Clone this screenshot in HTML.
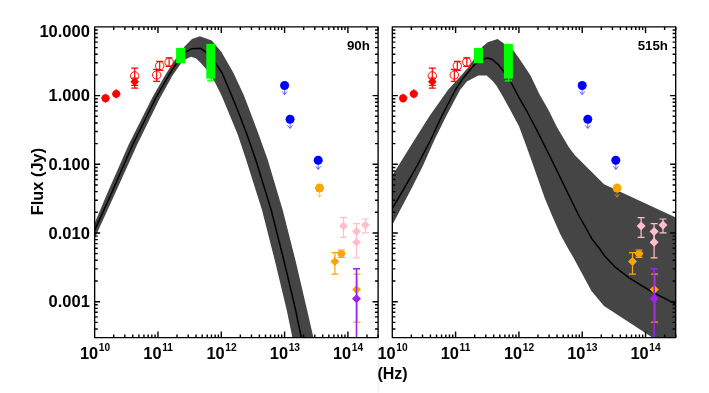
<!DOCTYPE html><html><head><meta charset="utf-8"><style>html,body{margin:0;padding:0;background:#fff}svg{display:block}text{font-family:"Liberation Sans",sans-serif;font-weight:bold;fill:#000}</style></head><body>
<svg width="709" height="393" viewBox="0 0 709 393">
<rect width="709" height="393" fill="#fff"/>
<defs><clipPath id="c1"><rect x="94.65" y="26.9" width="283.45000000000005" height="310.70000000000005"/></clipPath><clipPath id="c2"><rect x="392.3" y="26.9" width="283.40000000000003" height="310.70000000000005"/></clipPath></defs>
<rect x="377.7" y="338.2" width="1" height="54.5" fill="#ececec"/>
<polygon clip-path="url(#c1)" fill="#454545" points="94.3,224.0 106.5,195.0 128.5,145.0 152.6,97.0 165.0,75.5 173.0,62.7 185.0,46.0 192.0,39.0 199.9,36.2 211.7,40.5 221.3,51.7 227.2,62.0 233.5,73.0 238.6,84.0 243.7,95.0 249.5,110.0 258.9,135.0 267.8,160.0 282.7,210.0 295.4,260.0 307.1,310.0 313.4,337.5 313.4,345.0 292.4,345.0 292.4,337.5 286.7,310.0 274.7,260.0 262.0,210.0 246.2,160.0 237.9,135.0 227.6,110.0 221.3,95.0 214.9,82.3 207.2,70.3 201.0,63.3 196.3,58.6 191.0,56.8 185.0,59.4 181.4,62.7 172.5,75.5 159.5,99.0 137.0,145.0 114.4,195.0 94.3,239.0"/>
<polyline clip-path="url(#c1)" fill="none" stroke="#000" stroke-width="1.5" stroke-linejoin="round" points="94.3,231.0 110.7,195.0 132.5,145.0 156.0,97.5 168.7,75.5 176.9,62.7 185.0,52.4 191.4,48.8 200.3,48.2 206.0,52.4 215.5,63.2 222.1,73.0 226.8,84.0 231.4,95.0 237.6,110.0 247.1,135.0 255.8,160.0 271.2,210.0 283.8,260.0 295.6,310.0 301.3,337.5 303.0,345.0"/>
<polygon clip-path="url(#c2)" fill="#454545" points="391.8,176.2 414.4,140.0 429.9,115.5 447.9,90.0 458.6,78.2 468.2,67.4 482.9,46.2 487.8,42.2 497.6,39.0 503.9,43.5 513.5,50.5 519.9,59.6 530.5,75.5 539.6,94.4 548.5,110.0 557.3,127.8 568.7,146.9 574.7,155.0 580.2,160.5 604.0,184.3 675.8,217.4 680.0,219.0 680.0,345.0 660.0,345.0 652.0,337.2 604.0,306.1 591.3,290.8 573.5,257.7 567.8,248.0 560.2,234.0 551.8,215.0 544.8,198.3 529.9,156.0 525.2,143.1 519.1,126.5 510.3,110.0 502.7,96.3 496.4,85.5 492.4,80.7 486.6,75.4 478.4,75.4 466.9,81.4 460.0,90.0 446.5,115.5 434.4,140.0 423.3,165.0 411.8,188.0 391.8,226.0"/>
<polyline clip-path="url(#c2)" fill="none" stroke="#000" stroke-width="1.5" stroke-linejoin="round" points="391.8,209.3 403.2,190.0 417.5,165.0 430.6,140.0 442.0,115.5 455.3,90.0 463.1,78.2 474.5,64.6 483.5,59.1 488.0,58.0 492.2,59.5 498.3,64.6 504.0,71.8 511.6,83.5 519.3,98.2 526.2,110.0 538.2,132.9 549.5,155.5 570.4,198.3 578.5,215.0 584.8,226.0 592.1,239.1 599.1,248.0 604.0,255.2 615.5,267.4 629.5,278.1 652.4,292.1 675.8,304.1 680.0,306.0"/>
<g clip-path="url(#c1)">
<path d="M101.2,98.2H109.8M105.5,93.7V102.7" stroke="#ff0000" stroke-width="1.3"/>
<circle cx="105.5" cy="98.2" r="3.9" fill="#ff0000"/>
<path d="M111.9,93.8H120.5M116.2,89.3V98.3" stroke="#ff0000" stroke-width="1.3"/>
<circle cx="116.2" cy="93.8" r="3.9" fill="#ff0000"/>
<path d="M134.7,68.1V88.1M131.2,68.1H138.2M131.2,88.1H138.2" stroke="#ff0000" stroke-width="1.2" fill="none"/>
<circle cx="134.7" cy="75.9" r="4.2" fill="none" stroke="#ff0000" stroke-width="0.95"/>
<path d="M134.7,78.2V85.4M131.2,78.2H138.2M131.2,85.4H138.2" stroke="#ff0000" stroke-width="1.2" fill="none"/>
<path d="M134.7,77.3L139.1,81.7L134.7,86.1L130.3,81.7Z" fill="#ff0000"/>
<path d="M156.7,69.3V81.4M153.2,69.3H160.2M153.2,81.4H160.2" stroke="#ff0000" stroke-width="1.2" fill="none"/>
<circle cx="156.7" cy="75.0" r="4.2" fill="none" stroke="#ff0000" stroke-width="0.95"/>
<path d="M159.7,61.4V70.3M156.2,61.4H163.2M156.2,70.3H163.2" stroke="#ff0000" stroke-width="1.2" fill="none"/>
<circle cx="159.7" cy="65.8" r="4.2" fill="none" stroke="#ff0000" stroke-width="0.95"/>
<path d="M169.1,57.9V66.3M165.6,57.9H172.6M165.6,66.3H172.6" stroke="#ff0000" stroke-width="1.2" fill="none"/>
<circle cx="169.1" cy="62.1" r="4.2" fill="none" stroke="#ff0000" stroke-width="0.95"/>
<rect x="176.1" y="47.9" width="9.2" height="15.3" fill="#00ff00"/>
<path d="M211.1,78V80.9M207.2,80.9H214.4" stroke="#00ff00" stroke-width="1.4" fill="none"/>
 <rect x="206.3" y="43.9" width="9.0" height="34.7" fill="#00ff00"/>
<circle cx="284.6" cy="85.5" r="4.5" fill="#0000ff"/>
<path d="M284.6,85.5V94.3M282.1,91.5L284.6,94.7L287.1,91.5" stroke="#0000ff" stroke-width="0.8" stroke-opacity="0.75" fill="none"/>
<circle cx="290.1" cy="119.3" r="4.5" fill="#0000ff"/>
<path d="M290.1,119.3V128.1M287.6,125.3L290.1,128.5L292.6,125.3" stroke="#0000ff" stroke-width="0.8" stroke-opacity="0.75" fill="none"/>
<circle cx="318.2" cy="160.3" r="4.5" fill="#0000ff"/>
<path d="M318.2,160.3V169.1M315.7,166.3L318.2,169.5L320.7,166.3" stroke="#0000ff" stroke-width="0.8" stroke-opacity="0.75" fill="none"/>
<circle cx="319.5" cy="188.1" r="4.5" fill="#ffa500"/>
<path d="M319.5,188.1V196.9M317.0,194.1L319.5,197.3L322.0,194.1" stroke="#ffa500" stroke-width="0.8" stroke-opacity="0.75" fill="none"/>
<path d="M334.9,252.7V274.2M331.4,252.7H338.4M331.4,274.2H338.4" stroke="#ffa500" stroke-width="1.2" fill="none"/>
<path d="M334.9,257.1L339.4,261.6L334.9,266.1L330.4,261.6Z" fill="#ffa500"/>
<path d="M341.4,250.0V257.3M337.9,250.0H344.9M337.9,257.3H344.9" stroke="#ffa500" stroke-width="1.2" fill="none"/>
<path d="M337.0,253.6L339.1,250.4H343.7L345.8,253.6L343.7,256.8H339.1Z" fill="#ffa500"/>
<path d="M357.0,274.2V322.2M353.5,274.2H360.5M353.5,322.2H360.5" stroke="#ffa500" stroke-width="1.2" fill="none"/>
<path d="M356.6,285.1L361.1,289.6L356.6,294.1L352.1,289.6Z" fill="#ffa500"/>
<path d="M343.5,217.6V237.3M340.0,217.6H347.0M340.0,237.3H347.0" stroke="#ffc0cb" stroke-width="1.2" fill="none"/>
<path d="M343.5,221.4L348.0,225.9L343.5,230.4L339.0,225.9Z" fill="#ffc0cb"/>
<path d="M356.5,223.7V242.3M353.0,223.7H360.0M353.0,242.3H360.0" stroke="#ffc0cb" stroke-width="1.2" fill="none"/>
<path d="M356.5,226.9L361.0,231.4L356.5,235.9L352.0,231.4Z" fill="#ffc0cb"/>
<path d="M356.5,231.4V257.9M353.0,231.4H360.0M353.0,257.9H360.0" stroke="#ffc0cb" stroke-width="1.2" fill="none"/>
<path d="M356.5,237.8L361.0,242.3L356.5,246.8L352.0,242.3Z" fill="#ffc0cb"/>
<path d="M365.4,219.0V232.9M361.9,219.0H368.9M361.9,232.9H368.9" stroke="#ffc0cb" stroke-width="1.2" fill="none"/>
<path d="M365.4,220.6L369.9,225.1L365.4,229.6L360.9,225.1Z" fill="#ffc0cb"/>
</g>
<path d="M356.5,268.8V338M353.0,268.8H360.0" stroke="#a020f0" stroke-width="1.6" fill="none"/>
<path d="M356.5,294.3L361.0,298.8L356.5,303.3L352.0,298.8Z" fill="#a020f0"/>
<g clip-path="url(#c2)">
<path d="M398.8,98.2H407.4M403.1,93.7V102.7" stroke="#ff0000" stroke-width="1.3"/>
<circle cx="403.1" cy="98.2" r="3.9" fill="#ff0000"/>
<path d="M409.5,93.8H418.1M413.8,89.3V98.3" stroke="#ff0000" stroke-width="1.3"/>
<circle cx="413.8" cy="93.8" r="3.9" fill="#ff0000"/>
<path d="M432.3,68.1V88.1M428.8,68.1H435.8M428.8,88.1H435.8" stroke="#ff0000" stroke-width="1.2" fill="none"/>
<circle cx="432.3" cy="75.9" r="4.2" fill="none" stroke="#ff0000" stroke-width="0.95"/>
<path d="M432.3,78.2V85.4M428.8,78.2H435.8M428.8,85.4H435.8" stroke="#ff0000" stroke-width="1.2" fill="none"/>
<path d="M432.3,77.3L436.7,81.7L432.3,86.1L427.9,81.7Z" fill="#ff0000"/>
<path d="M454.3,69.3V81.4M450.8,69.3H457.8M450.8,81.4H457.8" stroke="#ff0000" stroke-width="1.2" fill="none"/>
<circle cx="454.3" cy="75.0" r="4.2" fill="none" stroke="#ff0000" stroke-width="0.95"/>
<path d="M457.3,61.4V70.3M453.8,61.4H460.8M453.8,70.3H460.8" stroke="#ff0000" stroke-width="1.2" fill="none"/>
<circle cx="457.3" cy="65.8" r="4.2" fill="none" stroke="#ff0000" stroke-width="0.95"/>
<path d="M466.8,57.9V66.3M463.2,57.9H470.2M463.2,66.3H470.2" stroke="#ff0000" stroke-width="1.2" fill="none"/>
<circle cx="466.8" cy="62.1" r="4.2" fill="none" stroke="#ff0000" stroke-width="0.95"/>
<rect x="473.8" y="47.9" width="9.2" height="15.3" fill="#00ff00"/>
<path d="M508.8,78V80.9M504.8,80.9H512.0" stroke="#00ff00" stroke-width="1.4" fill="none"/>
 <rect x="503.9" y="43.9" width="9.0" height="34.7" fill="#00ff00"/>
<circle cx="582.2" cy="85.5" r="4.5" fill="#0000ff"/>
<path d="M582.2,85.5V94.3M579.8,91.5L582.2,94.7L584.8,91.5" stroke="#0000ff" stroke-width="0.8" stroke-opacity="0.75" fill="none"/>
<circle cx="587.8" cy="119.3" r="4.5" fill="#0000ff"/>
<path d="M587.8,119.3V128.1M585.2,125.3L587.8,128.5L590.2,125.3" stroke="#0000ff" stroke-width="0.8" stroke-opacity="0.75" fill="none"/>
<circle cx="615.8" cy="160.3" r="4.5" fill="#0000ff"/>
<path d="M615.8,160.3V169.1M613.3,166.3L615.8,169.5L618.3,166.3" stroke="#0000ff" stroke-width="0.8" stroke-opacity="0.75" fill="none"/>
<circle cx="617.1" cy="188.1" r="4.5" fill="#ffa500"/>
<path d="M617.1,188.1V196.9M614.6,194.1L617.1,197.3L619.6,194.1" stroke="#ffa500" stroke-width="0.8" stroke-opacity="0.75" fill="none"/>
<path d="M632.5,252.7V274.2M629.0,252.7H636.0M629.0,274.2H636.0" stroke="#ffa500" stroke-width="1.2" fill="none"/>
<path d="M632.5,257.1L637.0,261.6L632.5,266.1L628.0,261.6Z" fill="#ffa500"/>
<path d="M639.0,250.0V257.3M635.5,250.0H642.5M635.5,257.3H642.5" stroke="#ffa500" stroke-width="1.2" fill="none"/>
<path d="M634.6,253.6L636.8,250.4H641.3L643.4,253.6L641.3,256.8H636.8Z" fill="#ffa500"/>
<path d="M654.6,274.2V322.2M651.1,274.2H658.1M651.1,322.2H658.1" stroke="#ffa500" stroke-width="1.2" fill="none"/>
<path d="M654.2,285.1L658.8,289.6L654.2,294.1L649.8,289.6Z" fill="#ffa500"/>
<path d="M641.1,217.6V237.3M637.6,217.6H644.6M637.6,237.3H644.6" stroke="#ffc0cb" stroke-width="1.2" fill="none"/>
<path d="M641.1,221.4L645.6,225.9L641.1,230.4L636.6,225.9Z" fill="#ffc0cb"/>
<path d="M654.1,223.7V242.3M650.6,223.7H657.6M650.6,242.3H657.6" stroke="#ffc0cb" stroke-width="1.2" fill="none"/>
<path d="M654.1,226.9L658.6,231.4L654.1,235.9L649.6,231.4Z" fill="#ffc0cb"/>
<path d="M654.1,231.4V257.9M650.6,231.4H657.6M650.6,257.9H657.6" stroke="#ffc0cb" stroke-width="1.2" fill="none"/>
<path d="M654.1,237.8L658.6,242.3L654.1,246.8L649.6,242.3Z" fill="#ffc0cb"/>
<path d="M663.0,219.0V232.9M659.5,219.0H666.5M659.5,232.9H666.5" stroke="#ffc0cb" stroke-width="1.2" fill="none"/>
<path d="M663.0,220.6L667.5,225.1L663.0,229.6L658.5,225.1Z" fill="#ffc0cb"/>
</g>
<path d="M654.1,268.8V338M650.6,268.8H657.6" stroke="#a020f0" stroke-width="1.6" fill="none"/>
<path d="M654.1,294.3L658.6,298.8L654.1,303.3L649.6,298.8Z" fill="#a020f0"/>
<rect x="94.65" y="26.9" width="283.45000000000005" height="310.70000000000005" fill="none" stroke="#000" stroke-width="1.35" stroke-linejoin="round"/>
<path d="M113.71,337.6v-3.1M113.71,26.9v3.1M124.86,337.6v-3.1M124.86,26.9v3.1M132.77,337.6v-3.1M132.77,26.9v3.1M138.90,337.6v-3.1M138.90,26.9v3.1M143.92,337.6v-3.1M143.92,26.9v3.1M148.15,337.6v-3.1M148.15,26.9v3.1M151.83,337.6v-3.1M151.83,26.9v3.1M155.06,337.6v-3.1M155.06,26.9v3.1M157.96,337.6v-6.2M157.96,26.9v6.2M177.02,337.6v-3.1M177.02,26.9v3.1M188.17,337.6v-3.1M188.17,26.9v3.1M196.08,337.6v-3.1M196.08,26.9v3.1M202.21,337.6v-3.1M202.21,26.9v3.1M207.23,337.6v-3.1M207.23,26.9v3.1M211.46,337.6v-3.1M211.46,26.9v3.1M215.14,337.6v-3.1M215.14,26.9v3.1M218.37,337.6v-3.1M218.37,26.9v3.1M221.27,337.6v-6.2M221.27,26.9v6.2M240.33,337.6v-3.1M240.33,26.9v3.1M251.48,337.6v-3.1M251.48,26.9v3.1M259.39,337.6v-3.1M259.39,26.9v3.1M265.52,337.6v-3.1M265.52,26.9v3.1M270.54,337.6v-3.1M270.54,26.9v3.1M274.78,337.6v-3.1M274.78,26.9v3.1M278.45,337.6v-3.1M278.45,26.9v3.1M281.69,337.6v-3.1M281.69,26.9v3.1M284.58,337.6v-6.2M284.58,26.9v6.2M303.64,337.6v-3.1M303.64,26.9v3.1M314.79,337.6v-3.1M314.79,26.9v3.1M322.70,337.6v-3.1M322.70,26.9v3.1M328.83,337.6v-3.1M328.83,26.9v3.1M333.85,337.6v-3.1M333.85,26.9v3.1M338.09,337.6v-3.1M338.09,26.9v3.1M341.76,337.6v-3.1M341.76,26.9v3.1M345.00,337.6v-3.1M345.00,26.9v3.1M347.89,337.6v-6.2M347.89,26.9v6.2M366.95,337.6v-3.1M366.95,26.9v3.1M378.10,337.6v-3.1M378.10,26.9v3.1M94.65,329.02h3.1M378.1,329.02h-3.1M94.65,322.36h3.1M378.1,322.36h-3.1M94.65,316.92h3.1M378.1,316.92h-3.1M94.65,312.32h3.1M378.1,312.32h-3.1M94.65,308.34h3.1M378.1,308.34h-3.1M94.65,304.82h3.1M378.1,304.82h-3.1M94.65,301.68h5.5M378.1,301.68h-5.5M94.65,281.00h3.1M378.1,281.00h-3.1M94.65,268.90h3.1M378.1,268.90h-3.1M94.65,260.32h3.1M378.1,260.32h-3.1M94.65,253.66h3.1M378.1,253.66h-3.1M94.65,248.23h3.1M378.1,248.23h-3.1M94.65,243.63h3.1M378.1,243.63h-3.1M94.65,239.64h3.1M378.1,239.64h-3.1M94.65,236.13h3.1M378.1,236.13h-3.1M94.65,232.99h5.5M378.1,232.99h-5.5M94.65,212.31h3.1M378.1,212.31h-3.1M94.65,200.21h3.1M378.1,200.21h-3.1M94.65,191.63h3.1M378.1,191.63h-3.1M94.65,184.97h3.1M378.1,184.97h-3.1M94.65,179.53h3.1M378.1,179.53h-3.1M94.65,174.93h3.1M378.1,174.93h-3.1M94.65,170.95h3.1M378.1,170.95h-3.1M94.65,167.43h3.1M378.1,167.43h-3.1M94.65,164.29h5.5M378.1,164.29h-5.5M94.65,143.61h3.1M378.1,143.61h-3.1M94.65,131.51h3.1M378.1,131.51h-3.1M94.65,122.93h3.1M378.1,122.93h-3.1M94.65,116.27h3.1M378.1,116.27h-3.1M94.65,110.84h3.1M378.1,110.84h-3.1M94.65,106.24h3.1M378.1,106.24h-3.1M94.65,102.25h3.1M378.1,102.25h-3.1M94.65,98.74h3.1M378.1,98.74h-3.1M94.65,95.60h5.5M378.1,95.60h-5.5M94.65,74.92h3.1M378.1,74.92h-3.1M94.65,62.82h3.1M378.1,62.82h-3.1M94.65,54.24h3.1M378.1,54.24h-3.1M94.65,47.58h3.1M378.1,47.58h-3.1M94.65,42.14h3.1M378.1,42.14h-3.1M94.65,37.54h3.1M378.1,37.54h-3.1M94.65,33.56h3.1M378.1,33.56h-3.1M94.65,30.04h3.1M378.1,30.04h-3.1" stroke="#000" stroke-width="1.4" fill="none"/>
<rect x="392.3" y="26.9" width="283.40000000000003" height="310.70000000000005" fill="none" stroke="#000" stroke-width="1.35" stroke-linejoin="round"/>
<path d="M411.36,337.6v-3.1M411.36,26.9v3.1M422.51,337.6v-3.1M422.51,26.9v3.1M430.42,337.6v-3.1M430.42,26.9v3.1M436.55,337.6v-3.1M436.55,26.9v3.1M441.57,337.6v-3.1M441.57,26.9v3.1M445.80,337.6v-3.1M445.80,26.9v3.1M449.48,337.6v-3.1M449.48,26.9v3.1M452.71,337.6v-3.1M452.71,26.9v3.1M455.61,337.6v-6.2M455.61,26.9v6.2M474.67,337.6v-3.1M474.67,26.9v3.1M485.82,337.6v-3.1M485.82,26.9v3.1M493.73,337.6v-3.1M493.73,26.9v3.1M499.86,337.6v-3.1M499.86,26.9v3.1M504.88,337.6v-3.1M504.88,26.9v3.1M509.11,337.6v-3.1M509.11,26.9v3.1M512.79,337.6v-3.1M512.79,26.9v3.1M516.02,337.6v-3.1M516.02,26.9v3.1M518.92,337.6v-6.2M518.92,26.9v6.2M537.98,337.6v-3.1M537.98,26.9v3.1M549.13,337.6v-3.1M549.13,26.9v3.1M557.04,337.6v-3.1M557.04,26.9v3.1M563.17,337.6v-3.1M563.17,26.9v3.1M568.19,337.6v-3.1M568.19,26.9v3.1M572.43,337.6v-3.1M572.43,26.9v3.1M576.10,337.6v-3.1M576.10,26.9v3.1M579.34,337.6v-3.1M579.34,26.9v3.1M582.23,337.6v-6.2M582.23,26.9v6.2M601.29,337.6v-3.1M601.29,26.9v3.1M612.44,337.6v-3.1M612.44,26.9v3.1M620.35,337.6v-3.1M620.35,26.9v3.1M626.48,337.6v-3.1M626.48,26.9v3.1M631.50,337.6v-3.1M631.50,26.9v3.1M635.74,337.6v-3.1M635.74,26.9v3.1M639.41,337.6v-3.1M639.41,26.9v3.1M642.65,337.6v-3.1M642.65,26.9v3.1M645.54,337.6v-6.2M645.54,26.9v6.2M664.60,337.6v-3.1M664.60,26.9v3.1M675.75,337.6v-3.1M675.75,26.9v3.1M392.3,329.02h3.1M675.7,329.02h-3.1M392.3,322.36h3.1M675.7,322.36h-3.1M392.3,316.92h3.1M675.7,316.92h-3.1M392.3,312.32h3.1M675.7,312.32h-3.1M392.3,308.34h3.1M675.7,308.34h-3.1M392.3,304.82h3.1M675.7,304.82h-3.1M392.3,301.68h5.5M675.7,301.68h-5.5M392.3,281.00h3.1M675.7,281.00h-3.1M392.3,268.90h3.1M675.7,268.90h-3.1M392.3,260.32h3.1M675.7,260.32h-3.1M392.3,253.66h3.1M675.7,253.66h-3.1M392.3,248.23h3.1M675.7,248.23h-3.1M392.3,243.63h3.1M675.7,243.63h-3.1M392.3,239.64h3.1M675.7,239.64h-3.1M392.3,236.13h3.1M675.7,236.13h-3.1M392.3,232.99h5.5M675.7,232.99h-5.5M392.3,212.31h3.1M675.7,212.31h-3.1M392.3,200.21h3.1M675.7,200.21h-3.1M392.3,191.63h3.1M675.7,191.63h-3.1M392.3,184.97h3.1M675.7,184.97h-3.1M392.3,179.53h3.1M675.7,179.53h-3.1M392.3,174.93h3.1M675.7,174.93h-3.1M392.3,170.95h3.1M675.7,170.95h-3.1M392.3,167.43h3.1M675.7,167.43h-3.1M392.3,164.29h5.5M675.7,164.29h-5.5M392.3,143.61h3.1M675.7,143.61h-3.1M392.3,131.51h3.1M675.7,131.51h-3.1M392.3,122.93h3.1M675.7,122.93h-3.1M392.3,116.27h3.1M675.7,116.27h-3.1M392.3,110.84h3.1M675.7,110.84h-3.1M392.3,106.24h3.1M675.7,106.24h-3.1M392.3,102.25h3.1M675.7,102.25h-3.1M392.3,98.74h3.1M675.7,98.74h-3.1M392.3,95.60h5.5M675.7,95.60h-5.5M392.3,74.92h3.1M675.7,74.92h-3.1M392.3,62.82h3.1M675.7,62.82h-3.1M392.3,54.24h3.1M675.7,54.24h-3.1M392.3,47.58h3.1M675.7,47.58h-3.1M392.3,42.14h3.1M675.7,42.14h-3.1M392.3,37.54h3.1M675.7,37.54h-3.1M392.3,33.56h3.1M675.7,33.56h-3.1M392.3,30.04h3.1M675.7,30.04h-3.1" stroke="#000" stroke-width="1.4" fill="none"/>
<g opacity="0.999">
<text x="89.9" y="36.7" font-size="16.5" text-anchor="end">10.000</text>
<text x="89.9" y="101.3" font-size="16.5" text-anchor="end">1.000</text>
<text x="89.9" y="170.0" font-size="16.5" text-anchor="end">0.100</text>
<text x="89.9" y="238.7" font-size="16.5" text-anchor="end">0.010</text>
<text x="89.9" y="307.4" font-size="16.5" text-anchor="end">0.001</text>
<text x="80.0" y="358.6" font-size="16.4">10<tspan font-size="10.2" dy="-7.3" dx="0.6">10</tspan></text>
<text x="143.3" y="358.6" font-size="16.4">10<tspan font-size="10.2" dy="-7.3" dx="0.6">11</tspan></text>
<text x="206.5" y="358.6" font-size="16.4">10<tspan font-size="10.2" dy="-7.3" dx="0.6">12</tspan></text>
<text x="269.8" y="358.6" font-size="16.4">10<tspan font-size="10.2" dy="-7.3" dx="0.6">13</tspan></text>
<text x="333.0" y="358.6" font-size="16.4">10<tspan font-size="10.2" dy="-7.3" dx="0.6">14</tspan></text>
<text x="377.4" y="358.6" font-size="16.4">10<tspan font-size="10.2" dy="-7.3" dx="0.6">10</tspan></text>
<text x="440.7" y="358.6" font-size="16.4">10<tspan font-size="10.2" dy="-7.3" dx="0.6">11</tspan></text>
<text x="503.9" y="358.6" font-size="16.4">10<tspan font-size="10.2" dy="-7.3" dx="0.6">12</tspan></text>
<text x="567.2" y="358.6" font-size="16.4">10<tspan font-size="10.2" dy="-7.3" dx="0.6">13</tspan></text>
<text x="630.4" y="358.6" font-size="16.4">10<tspan font-size="10.2" dy="-7.3" dx="0.6">14</tspan></text>
<text x="369.8" y="50.2" font-size="13.3" text-anchor="end">90h</text>
<text x="668" y="50.2" font-size="13.3" text-anchor="end">515h</text>
<text transform="translate(42.6,215.3) rotate(-90)" font-size="16.3" textLength="67.4" lengthAdjust="spacing">Flux (Jy)</text>
<defs><clipPath id="c3"><rect x="377.9" y="340" width="400" height="60"/></clipPath></defs>
<text x="377.4" y="379.1" font-size="16" clip-path="url(#c3)">(Hz)</text>
</g>
</svg></body></html>
